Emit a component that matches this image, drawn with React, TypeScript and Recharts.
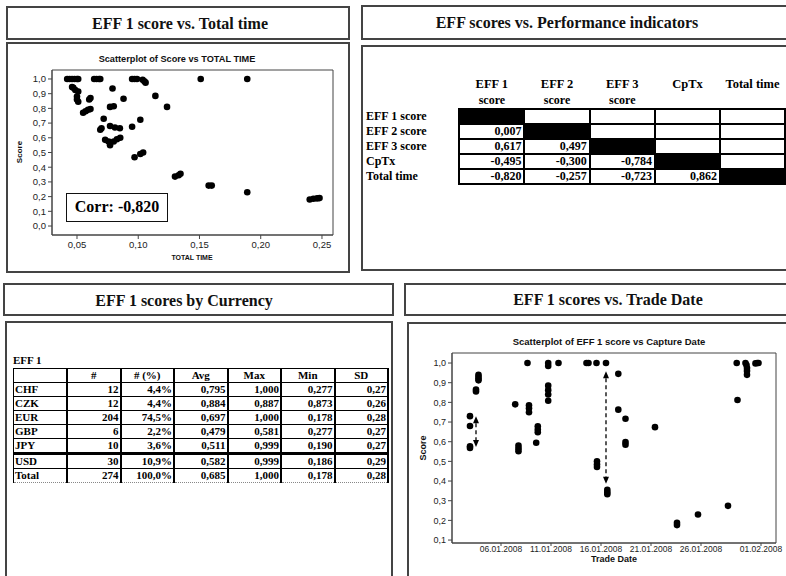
import React from "react";
import { ScatterChart, Scatter, XAxis, YAxis, ReferenceArea, ReferenceLine } from "recharts";

// EFF 1 score against total time
const totalTime = [
  0.042, 0.044, 0.046, 0.048, 0.05, 0.051, 0.064, 0.066, 0.068, 0.069, 0.095, 0.097, 0.099, 0.151, 0.189,
  0.1036, 0.105, 0.106, 0.046, 0.047, 0.0486, 0.051, 0.05, 0.05, 0.051, 0.06, 0.061, 0.055, 0.057, 0.059,
  0.061, 0.079, 0.088, 0.077, 0.08, 0.114, 0.1235, 0.0718, 0.069, 0.07, 0.077, 0.081, 0.085, 0.095, 0.1017,
  0.073, 0.0758, 0.077, 0.08, 0.0826, 0.0853, 0.097, 0.1017, 0.104, 0.13, 0.133, 0.1345, 0.1575, 0.16, 0.189,
  0.24, 0.243, 0.246, 0.248,
];
const totalScore = [
  1, 1, 1, 1, 1, 1, 1, 1, 1, 1, 1, 1, 1, 1, 1,
  0.995, 0.985, 0.975, 0.945, 0.94, 0.925, 0.915, 0.88, 0.86, 0.845, 0.86, 0.87, 0.77, 0.78, 0.79,
  0.795, 0.935, 0.865, 0.81, 0.815, 0.885, 0.81, 0.73, 0.655, 0.665, 0.68, 0.67, 0.665, 0.675, 0.723,
  0.586, 0.575, 0.55, 0.575, 0.59, 0.6, 0.468, 0.49, 0.5, 0.336, 0.345, 0.355, 0.275, 0.275, 0.23,
  0.18, 0.185, 0.188, 0.19,
];

// EFF 1 score against trade date (day of 2008, 1 = 01.01.2008)
const tradeDay = [
  2.9, 2.9, 2.9, 2.9, 3.5, 3.5, 3.75, 3.75, 3.75, 3.75, 7.42, 7.75, 7.75, 7.75, 8.65, 8.8, 8.8, 8.8,
  9.52, 9.68, 9.68, 9.68, 10.72, 10.72, 10.72, 10.72, 10.72, 10.72, 11.75, 14.55, 14.75, 15.55,
  15.6, 15.6, 15.6, 16.5, 16.63, 16.63, 16.63, 17.73, 17.73, 18.45, 18.45, 18.45, 21.4, 23.6, 23.6,
  25.7, 28.7, 29.57, 29.65, 30.45, 30.55, 30.6, 30.6, 30.6, 31.45, 31.62, 31.75,
];
const tradeScore = [
  0.73, 0.68, 0.577, 0.568, 0.865, 0.855, 0.94, 0.93, 0.92, 0.912, 0.79, 0.58, 0.565, 0.552, 1.0, 0.785, 0.77, 0.75,
  0.595, 0.678, 0.662, 0.648, 1.0, 0.985, 0.885, 0.862, 0.84, 0.808, 1.0, 1.0, 1.0, 1.0,
  0.5, 0.485, 0.472, 1.0, 0.355, 0.343, 0.333, 0.945, 0.763, 0.717, 0.598, 0.585, 0.674, 0.188, 0.176,
  0.23, 0.274, 1.0, 0.812, 1.0, 0.99, 0.975, 0.96, 0.94, 0.998, 1.0, 1.0,
];
const dateTicks = [6, 11, 16, 21, 26, 32];
const dateLabels = ["06.01.2008", "11.01.2008", "16.01.2008", "21.01.2008", "26.01.2008", "01.02.2008"];

// dashed range markers on the trade date plot
const arrowDay = [3.5, 16.5];
const arrowLow = [0.573, 0.386];
const arrowHigh = [0.73, 0.958];

// correlation matrix
const corrNames = ["EFF 1 score", "EFF 2 score", "EFF 3 score", "CpTx", "Total time"];
const corrHeads = [["EFF 1", "score"], ["EFF 2", "score"], ["EFF 3", "score"], ["CpTx", ""], ["Total time", ""]];
const corrValues = [
  [],
  [0.007],
  [0.617, 0.497],
  [-0.495, -0.3, -0.784],
  [-0.82, -0.257, -0.723, 0.862],
];

// EFF 1 by currency
const currencies = ["CHF", "CZK", "EUR", "GBP", "JPY", "USD", "Total"];
const curCount = [12, 12, 204, 6, 10, 30, 274];
const curShare = [4.4, 4.4, 74.5, 2.2, 3.6, 10.9, 100.0];
const curAvg = [0.795, 0.884, 0.697, 0.479, 0.511, 0.582, 0.685];
const curMax = [1.0, 0.887, 1.0, 0.581, 0.999, 0.999, 1.0];
const curMin = [0.277, 0.873, 0.178, 0.277, 0.19, 0.186, 0.178];
const curSd = [0.27, 0.26, 0.28, 0.27, 0.27, 0.29, 0.28];
const curHeads = ["", "#", "# (%)", "Avg", "Max", "Min", "SD"];

const fmt = (v: number, d: number) => v.toFixed(d).replace(".", ",");

const totalData = totalTime.map((t, i) => ({ t, s: totalScore[i] }));
const tradeData = tradeDay.map((d, i) => ({ d, s: tradeScore[i] }));

const SANS = "'Liberation Sans', Arial, sans-serif";
const SERIF = "'Liberation Serif', 'Times New Roman', serif";
const tickStyle = { fontSize: 9.5, fill: "#222", fontFamily: SANS };
const dateTickStyle = { fontSize: 8.5, fill: "#222", fontFamily: SANS };
const scoreTickStyle = { fontSize: 9, fill: "#222", fontFamily: SANS };

const Dot = (p: any) => <circle cx={p.cx} cy={p.cy} r={3.3} fill="#000" />;

const DashedArrow = (p: any) => {
  const x = p.x1;
  const top = Math.min(p.y1, p.y2);
  const bot = Math.max(p.y1, p.y2);
  return (
    <g>
      <line x1={x} y1={top + 7} x2={x} y2={bot - 7} stroke="#000" strokeWidth={1.3} strokeDasharray="4 3" />
      <path d={`M${x},${top} l-3,7 h6 z`} fill="#000" />
      <path d={`M${x},${bot} l-3,-7 h6 z`} fill="#000" />
    </g>
  );
};

const frame = (left: number, top: number, width: number, height: number): React.CSSProperties => ({
  position: "absolute",
  left,
  top,
  width,
  height,
  border: "2px solid #444",
  boxSizing: "border-box",
});

function Heading({ cx, cy, text }: { cx: number; cy: number; text: string }) {
  return (
    <div
      style={{
        position: "absolute",
        left: cx - 200,
        top: cy - 10,
        width: 400,
        lineHeight: "20px",
        textAlign: "center",
        fontFamily: SERIF,
        fontWeight: "bold",
        fontSize: 16,
        color: "#111",
      }}
    >
      {text}
    </div>
  );
}

function Caption({ cx, cy, text, size, rotate }: { cx: number; cy: number; text: string; size: number; rotate?: boolean }) {
  return (
    <div
      style={{
        position: "absolute",
        left: cx - 150,
        top: cy - 8,
        width: 300,
        lineHeight: "16px",
        textAlign: "center",
        fontFamily: SANS,
        fontWeight: "bold",
        fontSize: size,
        color: "#111",
        transform: rotate ? "rotate(-90deg)" : undefined,
      }}
    >
      {text}
    </div>
  );
}

function TimeScatter() {
  return (
    <div style={{ position: "absolute", left: 6, top: 42 }}>
      <ScatterChart width={343} height={230} margin={{ top: 28, right: 16, bottom: 0, left: 0 }}>
        <XAxis
          type="number"
          dataKey="t"
          domain={[0.0296, 0.259]}
          ticks={[0.05, 0.1, 0.15, 0.2, 0.25]}
          tickFormatter={(v: number) => fmt(v, 2)}
          interval={0}
          allowDataOverflow
          height={37}
          tick={tickStyle}
          tickSize={4}
          stroke="#444"
        />
        <YAxis
          type="number"
          dataKey="s"
          domain={[-0.061, 1.061]}
          ticks={[0, 0.1, 0.2, 0.3, 0.4, 0.5, 0.6, 0.7, 0.8, 0.9, 1.0]}
          tickFormatter={(v: number) => fmt(v, 1)}
          interval={0}
          allowDataOverflow
          width={46}
          tick={tickStyle}
          tickSize={4}
          stroke="#444"
        />
        <ReferenceArea x1={0.0296} x2={0.259} y1={-0.061} y2={1.061} fill="none" stroke="#444" strokeWidth={1} ifOverflow="visible" />
        <Scatter data={totalData} shape={Dot} isAnimationActive={false} />
      </ScatterChart>
    </div>
  );
}

function DateScatter() {
  return (
    <div style={{ position: "absolute", left: 407, top: 322 }}>
      <ScatterChart width={379} height={254} margin={{ top: 31, right: 10, bottom: 0, left: 0 }}>
        <XAxis
          type="number"
          dataKey="d"
          domain={[1.1, 33.5]}
          ticks={dateTicks}
          tickFormatter={(v: number) => dateLabels[dateTicks.indexOf(v)]}
          interval={0}
          allowDataOverflow
          height={33}
          tick={dateTickStyle}
          tickSize={3}
          tickMargin={0}
          stroke="#444"
        />
        <YAxis
          type="number"
          dataKey="s"
          domain={[0.085, 1.051]}
          ticks={[0.1, 0.2, 0.3, 0.4, 0.5, 0.6, 0.7, 0.8, 0.9, 1.0]}
          tickFormatter={(v: number) => fmt(v, 1)}
          interval={0}
          allowDataOverflow
          width={45}
          tick={scoreTickStyle}
          tickSize={4}
          stroke="#444"
        />
        <ReferenceArea x1={1.1} x2={33.5} y1={0.085} y2={1.051} fill="none" stroke="#444" strokeWidth={1} ifOverflow="visible" />
        {arrowDay.map((d, i) => (
          <ReferenceLine
            key={i}
            segment={[
              { x: d, y: arrowLow[i] },
              { x: d, y: arrowHigh[i] },
            ]}
            shape={DashedArrow}
          />
        ))}
        <Scatter data={tradeData} shape={Dot} isAnimationActive={false} />
      </ScatterChart>
    </div>
  );
}

function CorrTable() {
  const cell: React.CSSProperties = {
    width: 60,
    height: 13,
    border: "2px solid #000",
    textAlign: "right",
    padding: "0 2px",
    fontSize: 12,
    lineHeight: "13px",
  };
  return (
    <table
      style={{
        position: "absolute",
        left: 366,
        top: 76,
        borderCollapse: "collapse",
        fontFamily: SERIF,
        fontWeight: "bold",
        color: "#000",
      }}
    >
      <tbody>
        <tr style={{ height: 31 }}>
          <td style={{ width: 93 }} />
          {corrHeads.map((h, i) => (
            <td key={i} style={{ verticalAlign: "top", textAlign: "center", fontSize: 12.5, lineHeight: "16px", padding: 0 }}>
              {h[0]}
              <br />
              <span style={{ fontSize: 12 }}>{h[1]}</span>
            </td>
          ))}
        </tr>
        {corrNames.map((name, r) => (
          <tr key={name}>
            <td style={{ fontSize: 12, lineHeight: "13px", padding: 0 }}>{name}</td>
            {corrNames.map((_, c) => (
              <td key={c} style={{ ...cell, background: r === c ? "#000" : "#fff" }}>
                {c < r ? fmt(corrValues[r][c], 3) : ""}
              </td>
            ))}
          </tr>
        ))}
      </tbody>
    </table>
  );
}

function CurrencyTable() {
  const rows = currencies.map((c, i) => [
    c,
    String(curCount[i]),
    fmt(curShare[i], 1) + "%",
    fmt(curAvg[i], 3),
    fmt(curMax[i], 3),
    fmt(curMin[i], 3),
    fmt(curSd[i], 2),
  ]);
  const base: React.CSSProperties = {
    height: 13,
    padding: "0 1px",
    fontSize: 11,
    lineHeight: "13px",
    borderBottom: "1px solid #000",
    borderRight: "2px solid #000",
    overflow: "hidden",
    whiteSpace: "nowrap",
  };
  return (
    <>
      <div style={{ position: "absolute", left: 13, top: 353, fontFamily: SERIF, fontWeight: "bold", fontSize: 11, lineHeight: "14px" }}>
        EFF 1
      </div>
      <table
        style={{
          position: "absolute",
          left: 13,
          top: 368,
          borderCollapse: "collapse",
          tableLayout: "fixed",
          width: 376,
          fontFamily: SERIF,
          fontWeight: "bold",
          color: "#000",
        }}
      >
        <tbody>
          <tr>
            {curHeads.map((h, i) => (
              <td
                key={i}
                style={{
                  ...base,
                  textAlign: "center",
                  borderTop: "1px solid #000",
                  borderLeft: i === 0 ? "1px solid #000" : undefined,
                }}
              >
                {h}
              </td>
            ))}
          </tr>
          {rows.map((row, r) => (
            <tr key={row[0]}>
              {row.map((v, c) => (
                <td
                  key={c}
                  style={{
                    ...base,
                    textAlign: c === 0 ? "left" : "right",
                    borderLeft: c === 0 ? "1px solid #000" : undefined,
                    borderBottom:
                      r === 4 ? "3px solid #000" : r === rows.length - 1 ? "1px dotted #888" : "1px solid #000",
                  }}
                >
                  {v}
                </td>
              ))}
            </tr>
          ))}
        </tbody>
      </table>
    </>
  );
}

export default function App() {
  return (
    <div
      style={{
        position: "absolute",
        left: 0,
        top: 0,
        width: 786,
        height: 576,
        overflow: "hidden",
        background: "#fff",
      }}
    >
      {/* top left: score vs total time */}
      <div style={frame(6, 6, 344, 34)} />
      <Heading cx={180} cy={24} text="EFF 1 score vs. Total time" />
      <div style={frame(6, 42, 344, 231)} />
      <Caption cx={177} cy={59} text="Scatterplot of Score vs TOTAL TIME" size={9.2} />
      <Caption cx={20} cy={152} text="Score" size={8} rotate />
      <Caption cx={192} cy={258} text="TOTAL TIME" size={7} />
      <TimeScatter />
      <div
        style={{
          position: "absolute",
          left: 66,
          top: 193,
          width: 102,
          height: 29,
          border: "1.5px solid #111",
          boxSizing: "border-box",
          background: "#fff",
          textAlign: "center",
          lineHeight: "26px",
          fontFamily: SERIF,
          fontWeight: "bold",
          fontSize: 16,
        }}
      >
        Corr: {fmt(corrValues[4][0], 3)}
      </div>

      {/* top right: correlation matrix */}
      <div style={frame(361, 5, 440, 35)} />
      <Heading cx={567} cy={23} text="EFF scores vs. Performance indicators" />
      <div style={frame(361, 45, 440, 226)} />
      <CorrTable />

      {/* bottom left: by currency */}
      <div style={frame(3, 283, 391, 33)} />
      <Heading cx={184} cy={301} text="EFF 1 scores by Currency" />
      <div style={frame(5, 321, 388, 270)} />
      <CurrencyTable />

      {/* bottom right: score vs trade date */}
      <div style={frame(404, 283, 400, 33)} />
      <Heading cx={608} cy={300} text="EFF 1 scores vs. Trade Date" />
      <div style={frame(407, 322, 400, 270)} />
      <Caption cx={609} cy={342} text="Scatterplot of EFF 1 score vs Capture Date" size={9.5} />
      <Caption cx={423} cy={448} text="Score" size={9} rotate />
      <Caption cx={614} cy={559} text="Trade Date" size={9} />
      <DateScatter />
    </div>
  );
}
